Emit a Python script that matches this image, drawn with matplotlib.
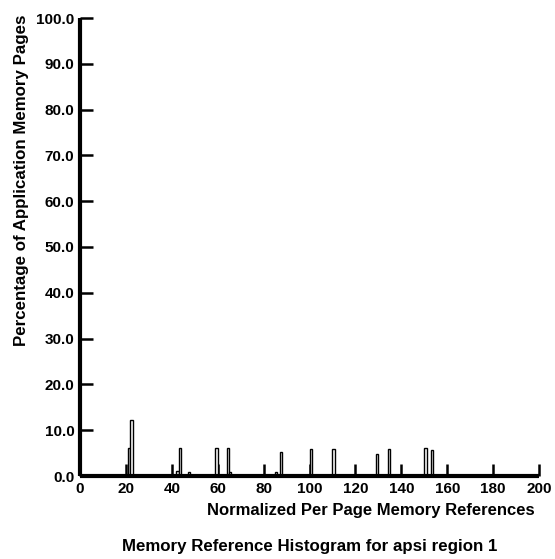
import matplotlib
matplotlib.use("Agg")
import matplotlib.pyplot as plt
import numpy as np

plt.rcParams['font.family'] = ['Liberation Sans', 'DejaVu Sans']
plt.rcParams['font.weight'] = 'bold'

# histogram bins (left edge) and percentage of pages
bin_left = [21, 22, 42, 43, 47, 59, 64, 65, 85, 87, 100, 110, 129, 134, 150, 153]
pct_pages = [6.2, 12.2, 1.0, 6.1, 0.8, 6.1, 6.1, 0.9, 0.9, 5.2, 6.0, 6.0, 4.7, 5.8, 6.2, 5.6]

x_ticks = [0, 20, 40, 60, 80, 100, 120, 140, 160, 180, 200]
y_ticks = [0, 10, 20, 30, 40, 50, 60, 70, 80, 90, 100]

fig = plt.figure(figsize=(5.55, 5.59), dpi=100)
ax = fig.add_axes([80/555, 1 - 476/559, 459/555, 458/559])

ax.bar(bin_left, pct_pages, width=1.0, align='edge', facecolor='white',
       edgecolor='black', linewidth=1.0, zorder=2)

ax.set_xlim(0, 200)
ax.set_ylim(0, 100)
ax.set_xticks(x_ticks)
ax.set_xticklabels([str(t) for t in x_ticks])
ax.set_yticks(y_ticks)
ax.set_yticklabels(["%.1f" % t for t in y_ticks])

for s in ['top', 'right']:
    ax.spines[s].set_visible(False)
for s in ['left', 'bottom']:
    ax.spines[s].set_linewidth(3.0)
    ax.spines[s].set_capstyle('butt')

ax.tick_params(axis='x', direction='in', length=9, width=1.8, labelsize=11, pad=4)
ax.tick_params(axis='y', direction='in', length=9, width=1.8, labelsize=11, pad=4)
for lab in ax.get_xticklabels() + ax.get_yticklabels():
    lab.set_fontweight('bold')

fig.text(371/555, 1 - 510/559, "Normalized Per Page Memory References",
         ha='center', va='center', fontsize=12, fontweight='bold')
fig.text(310/555, 1 - 546/559, "Memory Reference Histogram for apsi region 1",
         ha='center', va='center', fontsize=12.2, fontweight='bold')
fig.text(22/555, 1 - 180/559, "Percentage of Application Memory Pages",
         ha='center', va='center', rotation=90, fontsize=12.2, fontweight='bold')

fig.savefig("out.png", dpi=100)
